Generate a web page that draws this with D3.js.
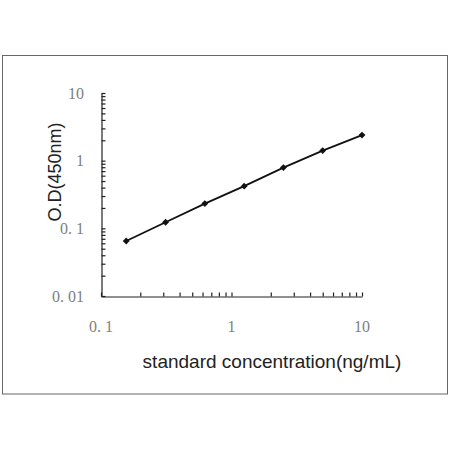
<!DOCTYPE html>
<html>
<head>
<meta charset="utf-8">
<script src="https://cdn.jsdelivr.net/npm/d3@7"></script>
<style>
  body { margin: 0; background: #fff; }
</style>
</head>
<body>
<div id="chart"></div>
<script>
// standard curve values
const concentrations = [0.156, 0.3125, 0.625, 1.25, 2.5, 5, 10];
const odValues = [0.065, 0.123, 0.232, 0.42, 0.79, 1.41, 2.39];
const xTickLabels = ["0. 1", "1", "10"];
const yTickLabels = ["0. 01", "0. 1", "1", "10"];
const xTickValues = [0.1, 1, 10];
const yTickValues = [0.01, 0.1, 1, 10];

const width = 450, height = 450;

const svg = d3.select("#chart")
  .append("svg")
  .attr("width", width)
  .attr("height", height);

// outer frame
svg.append("rect")
  .attr("x", 2.5).attr("y", 55.5)
  .attr("width", 445).attr("height", 338.5)
  .attr("fill", "none")
  .attr("stroke", "#666")
  .attr("stroke-width", 1);

const xScale = d3.scaleLog()
  .domain([0.1, 10])
  .range([101, 362]);

const yScale = d3.scaleLog()
  .domain([0.01, 10])
  .range([296, 93]);

// axes with minor ticks pointing inward
const xAxis = d3.axisBottom(xScale)
  .tickValues(xScale.ticks())
  .tickSizeInner(-4)
  .tickSizeOuter(0)
  .tickFormat("");

const yAxis = d3.axisLeft(yScale)
  .tickValues(yScale.ticks())
  .tickSizeInner(-4)
  .tickSizeOuter(0)
  .tickFormat("");

const gx = svg.append("g")
  .attr("transform", `translate(0,${yScale(0.01) + 0.5})`)
  .call(xAxis);

const gy = svg.append("g")
  .attr("transform", `translate(${xScale(0.1) + 0.5},0)`)
  .call(yAxis);

[gx, gy].forEach(g => {
  g.selectAll("path, line").attr("stroke", "#222").attr("stroke-width", 1.2);
});

// tick labels
svg.append("g")
  .selectAll("text")
  .data(xTickValues)
  .join("text")
    .attr("x", d => xScale(d))
    .attr("y", 332)
    .attr("text-anchor", "middle")
    .attr("font-family", "Liberation Serif, serif")
    .attr("font-size", 16)
    .attr("fill", "#808080")
    .text((d, i) => xTickLabels[i]);

svg.append("g")
  .selectAll("text")
  .data(yTickValues)
  .join("text")
    .attr("x", 84)
    .attr("y", d => yScale(d))
    .attr("dy", "0.35em")
    .attr("text-anchor", "end")
    .attr("font-family", "Liberation Serif, serif")
    .attr("font-size", 16)
    .attr("fill", "#808080")
    .text((d, i) => yTickLabels[i]);

// the curve
const lineGenerator = d3.line()
  .x((d, i) => xScale(concentrations[i]))
  .y(d => yScale(d));

svg.append("path")
  .attr("d", lineGenerator(odValues))
  .attr("fill", "none")
  .attr("stroke", "#111")
  .attr("stroke-width", 1.8);

svg.append("g")
  .selectAll("path")
  .data(odValues)
  .join("path")
    .attr("d", d3.symbol(d3.symbolDiamond2, 30))
    .attr("transform", (d, i) => `translate(${xScale(concentrations[i])},${yScale(d)})`)
    .attr("fill", "#111");

// axis titles
svg.append("text")
  .attr("transform", `translate(61,172) rotate(-90)`)
  .attr("text-anchor", "middle")
  .attr("font-family", "Liberation Sans, Arial, sans-serif")
  .attr("font-size", 18)
  .attr("fill", "#222")
  .text("O.D(450nm)");

svg.append("text")
  .attr("x", 272)
  .attr("y", 368)
  .attr("text-anchor", "middle")
  .attr("font-family", "Liberation Sans, Arial, sans-serif")
  .attr("font-size", 19)
  .attr("fill", "#222")
  .text("standard concentration(ng/mL)");
</script>
</body>
</html>
